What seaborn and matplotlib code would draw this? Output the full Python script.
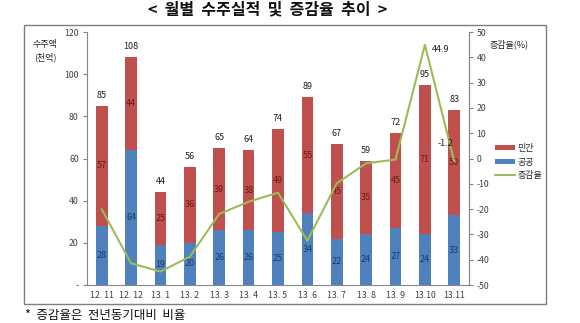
import numpy as np
import pandas as pd
import matplotlib
matplotlib.use("Agg")
import matplotlib.pyplot as plt
from matplotlib.patches import Rectangle, Patch
from matplotlib.lines import Line2D
import seaborn as sns

months = ["12. 11", "12. 12", "13. 1", "13. 2", "13. 3", "13. 4", "13. 5",
          "13 .6", "13. 7", "13. 8", "13. 9", "13.10", "13.11"]
public = [28, 64, 19, 20, 26, 26, 25, 34, 22, 24, 27, 24, 33]
private = [57, 44, 25, 36, 39, 38, 49, 55, 45, 35, 45, 71, 50]
rate = [-20.0, -41.4, -44.7, -38.8, -21.9, -17.1, -13.5, -32.5, -9.8, -1.9, -0.4, 44.9, -1.2]
left_ticks = [0, 20, 40, 60, 80, 100, 120]
left_ticklabels = ["-", "20", "40", "60", "80", "100", "120"]
right_ticks = [-50, -40, -30, -20, -10, 0, 10, 20, 30, 40, 50]

RED = "#C0504D"
BLUE = "#4F81BD"
GREEN = "#9BBB59"
GRAY = "#868686"
TXT = "#404040"

sns.set_theme(style="white")
plt.rcParams["font.family"] = ["Noto Sans CJK KR", "DejaVu Sans"]
plt.rcParams["axes.unicode_minus"] = False

df = pd.DataFrame({"month": months, "public": public, "private": private, "rate": rate})
df["total"] = df["public"] + df["private"]
df["idx"] = np.arange(len(df))

fig = plt.figure(figsize=(5.8, 3.23), dpi=100)
ax = fig.add_axes([0.150, 0.1176, 0.6586, 0.7833])

sns.barplot(data=df, x="month", y="total", color=RED, width=0.4, saturation=1,
            ax=ax, edgecolor="none", order=months)
sns.barplot(data=df, x="month", y="public", color=BLUE, width=0.4, saturation=1,
            ax=ax, edgecolor="none", order=months)

ax.set_xlim(-0.5, len(months) - 0.5)
ax.set_ylim(0, 120)
ax.set_yticks(left_ticks)
ax.set_yticklabels(left_ticklabels)
ax.set_xlabel("")
ax.set_ylabel("")
ax.set_xticks(np.arange(len(months)))
ax.set_xticklabels(months)
ax.set_xticks(np.arange(len(months) + 1) - 0.5, minor=True)
ax.tick_params(axis="x", which="major", length=0, labelsize=6.3, colors=TXT, pad=4)
ax.tick_params(axis="x", which="minor", length=3, width=0.8, color=GRAY, direction="out")
ax.tick_params(axis="y", which="major", length=3, width=0.8, color=GRAY, direction="out",
               labelsize=6.3, labelcolor=TXT, pad=3)
ax.spines["top"].set_visible(False)
for s in ["left", "bottom", "right"]:
    ax.spines[s].set_color(GRAY)
    ax.spines[s].set_linewidth(0.8)
ax.grid(False)

for i, r in df.iterrows():
    ax.text(i, r["total"] + 5, f"{r['total']}", ha="center", va="center", fontsize=6.5, color="#202020")
    ax.text(i, r["public"] + r["private"] / 2, f"{r['private']}", ha="center", va="center",
            fontsize=6.5, color="#6B1C1C")
    ax.text(i, r["public"] / 2, f"{r['public']}", ha="center", va="center",
            fontsize=6.5, color="#1F3A6B")

ax2 = ax.twinx()
sns.lineplot(data=df, x="idx", y="rate", color=GREEN, linewidth=1.5, ax=ax2)
ax2.set_ylim(-50, 50)
ax2.set_yticks(right_ticks)
ax2.set_xlim(-0.5, len(months) - 0.5)
ax2.set_ylabel("")
ax2.set_xlabel("")
ax2.tick_params(axis="y", length=3, width=0.8, color=GRAY, direction="out",
                labelsize=6.3, labelcolor=TXT, pad=2.5)
for s in ["top", "left", "bottom"]:
    ax2.spines[s].set_visible(False)
ax2.spines["right"].set_color(GRAY)
ax2.spines["right"].set_linewidth(0.8)

ax2.text(11 + 0.55, rate[11] - 2, f"{rate[11]}", ha="center", va="center", fontsize=6.5, color="#202020")
ax2.text(12 - 0.3, rate[12] + 7, f"{rate[12]}", ha="center", va="center", fontsize=6.5, color="#202020")

fig.text(45 / 580, 1 - 44 / 323, "수주액", ha="center", va="center", fontsize=6.5, color="#202020")
fig.text(45 / 580, 1 - 57.5 / 323, "(천억)", ha="center", va="center", fontsize=6.5, color="#202020")
fig.text(509 / 580, 1 - 44.5 / 323, "증감율(%)", ha="center", va="center", fontsize=6.5, color="#202020")

handles = [Patch(facecolor=RED, edgecolor="none", label="민간"),
           Patch(facecolor=BLUE, edgecolor="none", label="공공"),
           Line2D([0], [0], color=GREEN, lw=1.5, label="증감율")]
fig.legend(handles=handles, loc="upper left", bbox_to_anchor=(495 / 580, 1 - 144 / 323),
           frameon=False, fontsize=6.5, handlelength=2.2, handleheight=0.4,
           handletextpad=0.3, labelspacing=0.5, borderaxespad=0, borderpad=0)

fig.patches.append(Rectangle((24 / 580, 1 - 304 / 323), (546 - 24) / 580, (304 - 25) / 323,
                             transform=fig.transFigure, fill=False, edgecolor="#7F7F7F",
                             linewidth=1.0))

fig.text(268 / 580, 1 - 9 / 323, "<  월별  수주실적  및  증감율  추이  >", ha="center", va="center",
         fontsize=11.5, fontweight="bold", color="#111111")
fig.text(25 / 580, 1 - 315 / 323, "*  증감율은  전년동기대비  비율", ha="left", va="center",
         fontsize=9, color="#111111")

fig.savefig("out.png", dpi=100)
